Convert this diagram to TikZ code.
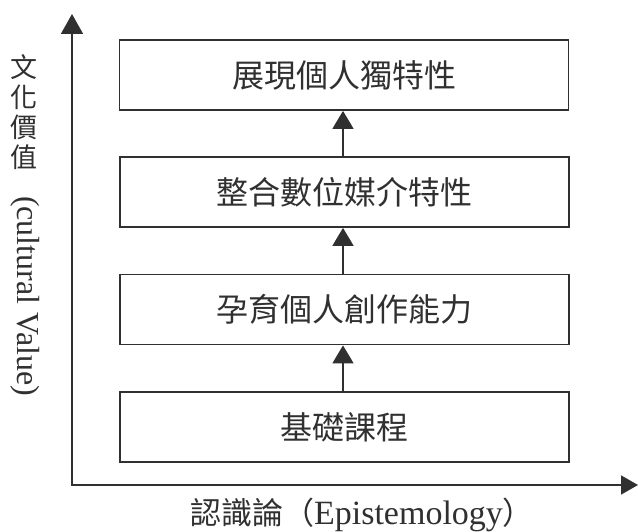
\documentclass[tikz,border=0pt]{standalone}
\usepackage{fontspec}
\setmainfont{Liberation Serif}
\newfontfamily\cjk{Noto Sans CJK TC}
\usetikzlibrary{arrows.meta}
\definecolor{ink}{HTML}{303030}
\tikzset{
  stagebox/.style={draw=ink, line width=1.8pt, minimum width=449pt, minimum height=70pt, inner sep=0pt,
    text=ink, font=\cjk\fontsize{32}{34}\selectfont},
  uparrow/.style={draw=ink, line width=1.8pt, -{Triangle[length=18pt,width=21pt]}},
  axis/.style={draw=ink, line width=1.8pt, {Triangle[length=20pt,width=22pt]}-{Triangle[length=17pt,width=19pt]}},
  axlabel/.style={text=ink, inner sep=0pt}
}
\begin{document}
\begin{tikzpicture}[x=1pt,y=-1pt]
\useasboundingbox (0,0) rectangle (638,532);
% boxes
\node[stagebox] (b1) at (344,75) {展現個人獨特性};
\node[stagebox] (b2) at (344.5,192) {整合數位媒介特性};
\node[stagebox] (b3) at (344.5,309.5) {孕育個人創作能力};
\node[stagebox] (b4) at (344.5,427) {基礎課程};
% arrows between boxes
\draw[uparrow] (b2.north -| 343,0) -- (b1.south -| 343,0);
\draw[uparrow] (b3.north -| 343,0) -- (b2.south -| 343,0);
\draw[uparrow] (b4.north -| 343,0) -- (b3.south -| 343,0);
% axes
\coordinate (ytip) at (72,14);
\coordinate (origin) at (72,485);
\coordinate (xtip) at (638,485);
\draw[axis] (ytip) -- (origin) -- (xtip);
% axis labels
\node[axlabel, align=center, font=\cjk\fontsize{27}{30}\selectfont] (ylab) at (24,112) {文\\化\\價\\值};
\node[axlabel, rotate=-90, font=\fontsize{32}{34}\selectfont] (ylab2) at (25,296) {(cultural Value)};
\node[axlabel, font=\fontsize{34}{36}\selectfont] (xlab) at (362,515) {{\cjk\fontsize{31}{33}\selectfont 認識論（}Epistemology{\cjk\fontsize{31}{33}\selectfont ）}};
\end{tikzpicture}
\end{document}
